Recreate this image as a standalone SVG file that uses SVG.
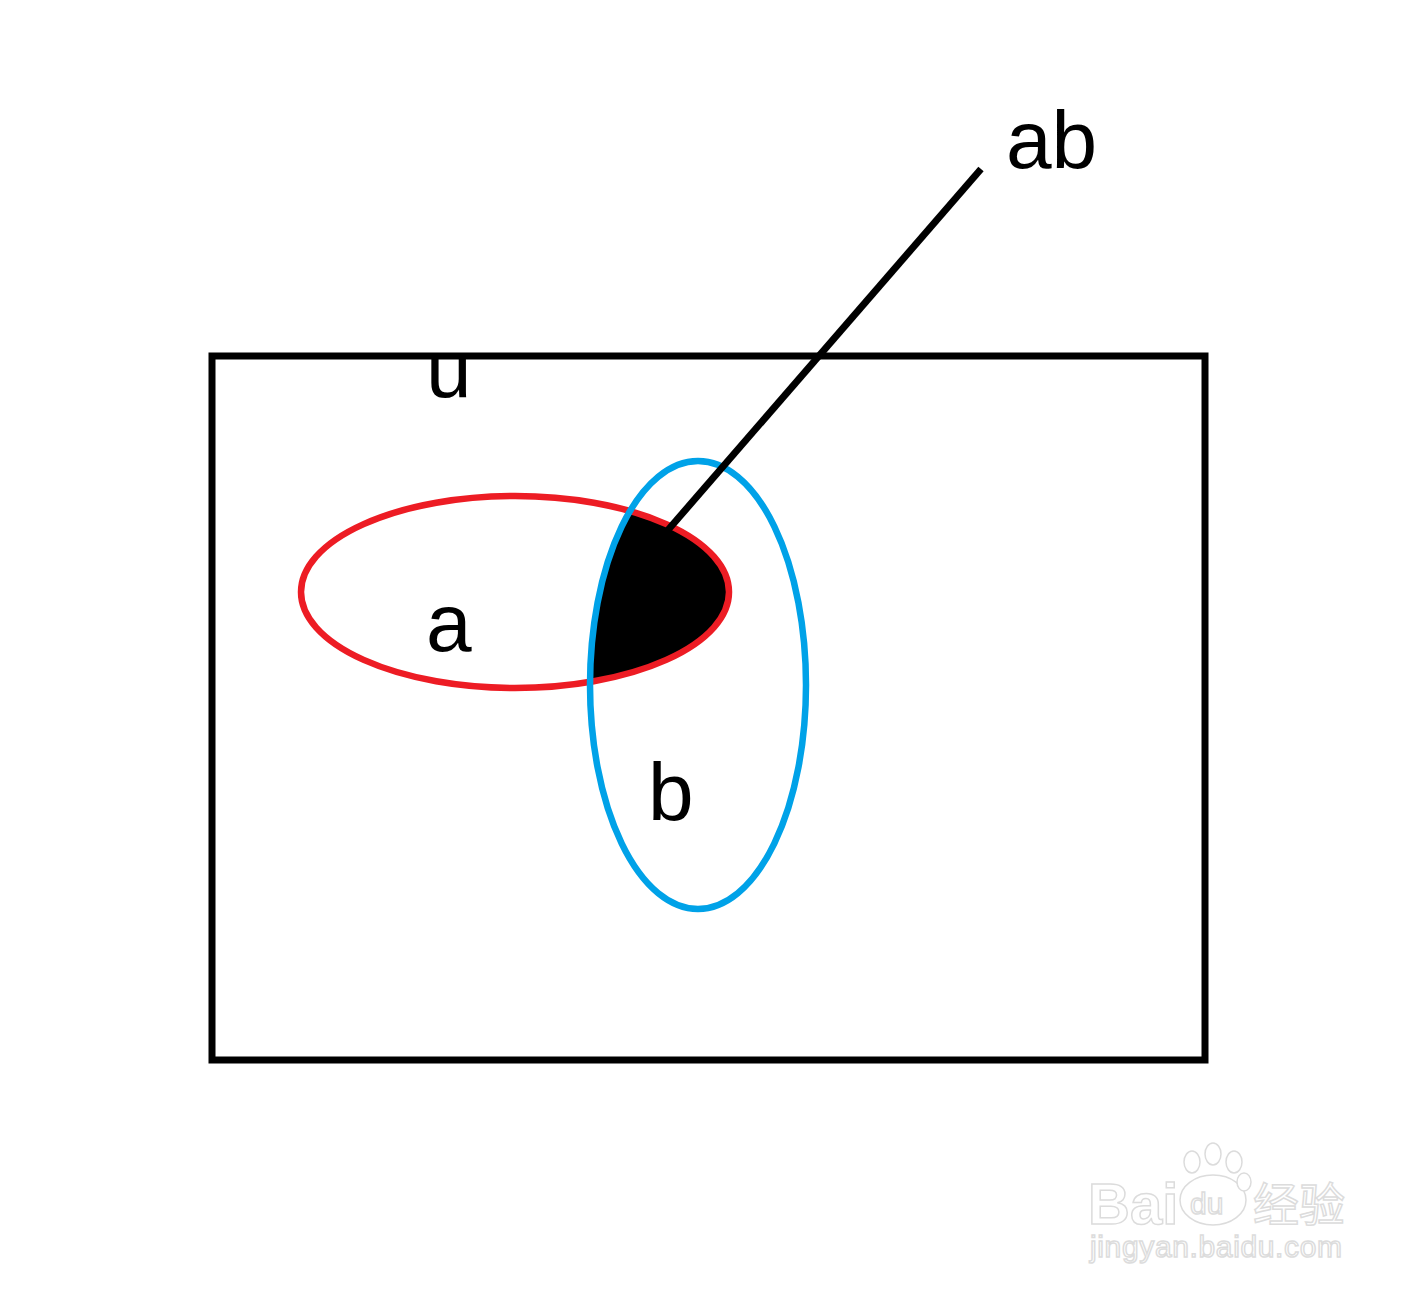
<svg xmlns="http://www.w3.org/2000/svg" width="1420" height="1296" viewBox="0 0 1420 1296">
  <style>
    .lbl { font-family: "Liberation Sans", Arial, sans-serif; font-size: 82px; fill: #000; }
    .wm { font-family: "Liberation Sans", "Noto Sans CJK SC", sans-serif; fill: #fff; stroke: #dcdcdc; stroke-width: 1.5; }
  </style>
  <defs>
    <clipPath id="clipA">
      <ellipse cx="515" cy="592" rx="214" ry="96"/>
    </clipPath>
  </defs>
  <rect width="1420" height="1296" fill="#fff"/>
  <g id="universe">
    <text class="lbl" x="426" y="397">u</text>
    <rect x="212" y="356" width="993" height="704" fill="none" stroke="#000" stroke-width="7"/>
  </g>
  <g id="intersection">
    <ellipse cx="698" cy="685" rx="108" ry="224" fill="#000" clip-path="url(#clipA)"/>
  </g>
  <g id="setA">
    <ellipse cx="515" cy="592" rx="214" ry="96" fill="none" stroke="#ED1C24" stroke-width="6.5"/>
    <text class="lbl" x="426" y="651">a</text>
  </g>
  <g id="setB">
    <ellipse cx="698" cy="685" rx="108" ry="224" fill="none" stroke="#00A2E8" stroke-width="6.5"/>
    <text class="lbl" x="648" y="820">b</text>
  </g>
  <g id="connectors">
    <line x1="981" y1="169" x2="668" y2="530" stroke="#000" stroke-width="7"/>
  </g>
  <g id="label-ab">
    <text class="lbl" x="1006" y="168">ab</text>
  </g>
  <g id="watermark">
    <text class="wm" x="1088" y="1224" font-size="58" font-weight="bold">Bai</text>
    <ellipse cx="1213" cy="1200" rx="33" ry="25" fill="#fff" stroke="#dcdcdc" stroke-width="1.5"/>
    <text class="wm" x="1190" y="1214" font-size="30">du</text>
    <ellipse cx="1192" cy="1162" rx="8" ry="11" fill="#fff" stroke="#dcdcdc" stroke-width="1.5"/>
    <ellipse cx="1213" cy="1154" rx="8" ry="11" fill="#fff" stroke="#dcdcdc" stroke-width="1.5"/>
    <ellipse cx="1234" cy="1162" rx="8" ry="11" fill="#fff" stroke="#dcdcdc" stroke-width="1.5"/>
    <ellipse cx="1244" cy="1182" rx="7" ry="9" fill="#fff" stroke="#dcdcdc" stroke-width="1.5"/>
    <text class="wm" x="1253" y="1221" font-size="46">经验</text>
    <text class="wm" x="1090" y="1257" font-size="30" textLength="252">jingyan.baidu.com</text>
  </g>
</svg>
